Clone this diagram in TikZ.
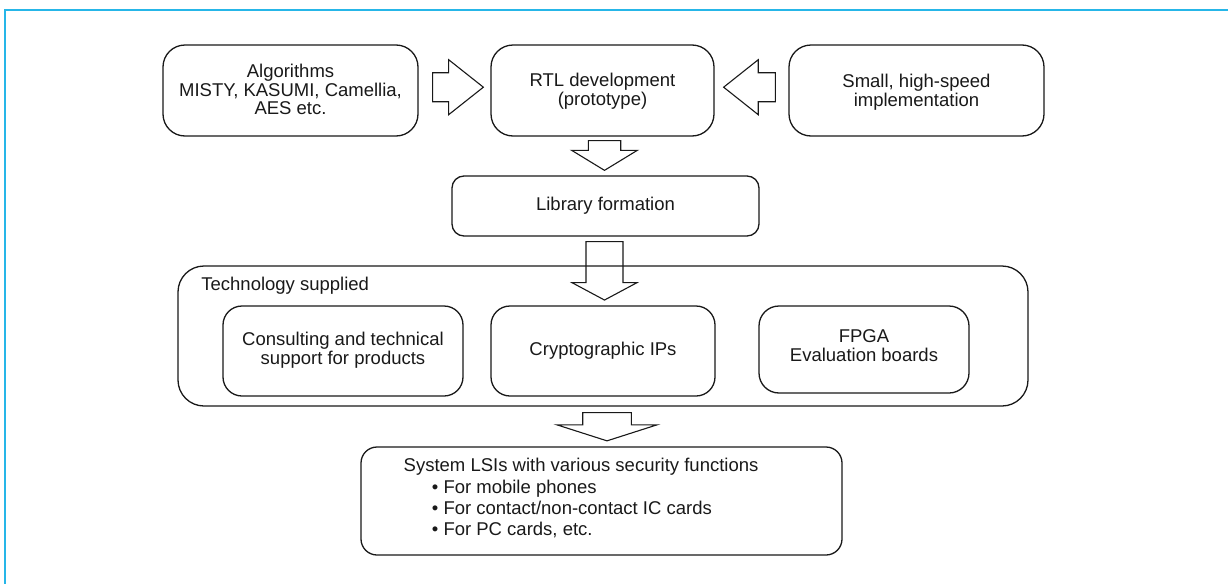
\documentclass[tikz,border=0pt]{standalone}
\usepackage{fontspec}
\setmainfont{Liberation Sans}
\usetikzlibrary{calc,fit}
\definecolor{framecyan}{RGB}{38,182,232}
\definecolor{ink}{RGB}{25,25,25}

% block arrow pointing down: start, tip, shaft half-width, head half-width, head length
\newcommand\blockdown[5]{%
  \draw[barrow] ($(#1)+(-#3,0)$) -- ($(#1|-#2)+(-#3,-#5)$) -- ($(#1|-#2)+(-#4,-#5)$)
    -- (#1|-#2) -- ($(#1|-#2)+(#4,-#5)$) -- ($(#1|-#2)+(#3,-#5)$) -- ($(#1)+(#3,0)$) -- cycle;}
% horizontal block arrow: start, tip, shaft half-width, head half-width, signed head length
\newcommand\blockhoriz[5]{%
  \draw[barrow] ($(#1)+(0,-#3)$) -- ($(#2|-#1)+({-1*(#5)},-#3)$) -- ($(#2|-#1)+({-1*(#5)},-#4)$)
    -- (#2|-#1) -- ($(#2|-#1)+({-1*(#5)},#4)$) -- ($(#2|-#1)+({-1*(#5)},#3)$) -- ($(#1)+(0,#3)$) -- cycle;}

\begin{document}
\begin{tikzpicture}[x=0.5pt,y=-0.5pt,
  box/.style={draw=ink, line width=0.65pt, inner sep=0pt},
  txt/.style={inner sep=0pt, text=ink, align=center, font=\fontsize{9.25}{8.5}\selectfont},
  barrow/.style={draw=ink, line width=0.55pt, line join=miter},
]
\useasboundingbox (0,0) rectangle (1228,584);

% page frame
\draw[framecyan, line width=1pt] (5,584) -- (5,10) -- (1228,10);

% top row
\node[box, rounded corners=11pt, fit={(163,45) (418,136)}] (alg) {};
\node[txt, font=\fontsize{9.25}{9.4}\selectfont] (algtxt) at ($(alg.center)+(0,-1)$)
  {Algorithms\\MISTY, KASUMI, Camellia,\\AES etc.};
\node[box, rounded corners=11pt, fit={(491,45) (714,136)}] (rtl) {};
\node[txt] (rtltxt) at ($(rtl.center)+(0,1)$) {RTL development\\(prototype)};
\node[box, rounded corners=11pt, fit={(789,45) (1044,136)}] (small) {};
\node[txt] (smalltxt) at ($(small.center)+(0,1.5)$) {Small, high-speed\\implementation};

% library
\node[box, rounded corners=6pt, fit={(452,176) (759,236)}] (lib) {};
\node[txt] (libtxt) at (lib.center) {Library formation};

% technology supplied group
\node[box, rounded corners=13pt, fit={(178,266) (1028,406)}] (outer) {};
\node[txt, anchor=base west] (techlbl) at (201,290.7) {Technology supplied};
\node[box, rounded corners=9.5pt, fit={(223,306) (463,396)}] (cons) {};
\node[txt] (constxt) at ($(cons.center)+(0,-1)$) {Consulting and technical\\support for products};
\node[box, rounded corners=9.5pt, fit={(491,306) (715,396)}] (crypto) {};
\node[txt] (cryptotxt) at (crypto.center) {Cryptographic IPs};
\node[box, rounded corners=10pt, fit={(759,306) (969,393)}] (fpga) {};
\node[txt, font=\fontsize{9.25}{9.5}\selectfont] (fpgatxt) at ($(fpga.center)+(0,-4)$)
  {FPGA\\Evaluation boards};

% system LSIs
\node[box, rounded corners=8pt, fit={(361,447) (842,555)}] (sys) {};
\node[txt, anchor=base west] (sys0) at (403.3,471.7) {System LSIs with various security functions};
\node[txt, anchor=base west] (sys1) at (431.5,493.3) {\textbullet\ For mobile phones};
\node[txt, anchor=base west] (sys2) at (431.5,514.3) {\textbullet\ For contact/non-contact IC cards};
\node[txt, anchor=base west] (sys3) at (431.5,535.5) {\textbullet\ For PC cards, etc.};

% connectors
\coordinate (a4s) at ($(alg.east)+(14,-3.3)$);
\coordinate (a4t) at ($(rtl.west)+(-7,-3.3)$);
\blockhoriz{a4s}{a4t}{14.5}{27.5}{34.7}
\coordinate (a5s) at ($(small.west)+(-13,-3.3)$);
\coordinate (a5t) at ($(rtl.east)+(9,-3.3)$);
\blockhoriz{a5s}{a5t}{14.5}{27.5}{-34.6}

\coordinate (a1s) at ($(rtl.south)+(2,4)$);
\coordinate (a1t) at ($(lib.north)+(-1,-5)$);
\blockdown{a1s}{a1t}{16.2}{32.8}{20}
\coordinate (a2s) at ($(lib.south)+(-1,5)$);
\coordinate (a2t) at ($(crypto.north)+(1.5,-5.3)$);
\blockdown{a2s}{a2t}{18.5}{32.5}{17.4}
\coordinate (a3s) at ($(outer.south)+(4,6)$);
\coordinate (a3t) at ($(sys.north)+(5,-5.5)$);
\blockdown{a3s}{a3t}{24.3}{50}{16}
\end{tikzpicture}
\end{document}
